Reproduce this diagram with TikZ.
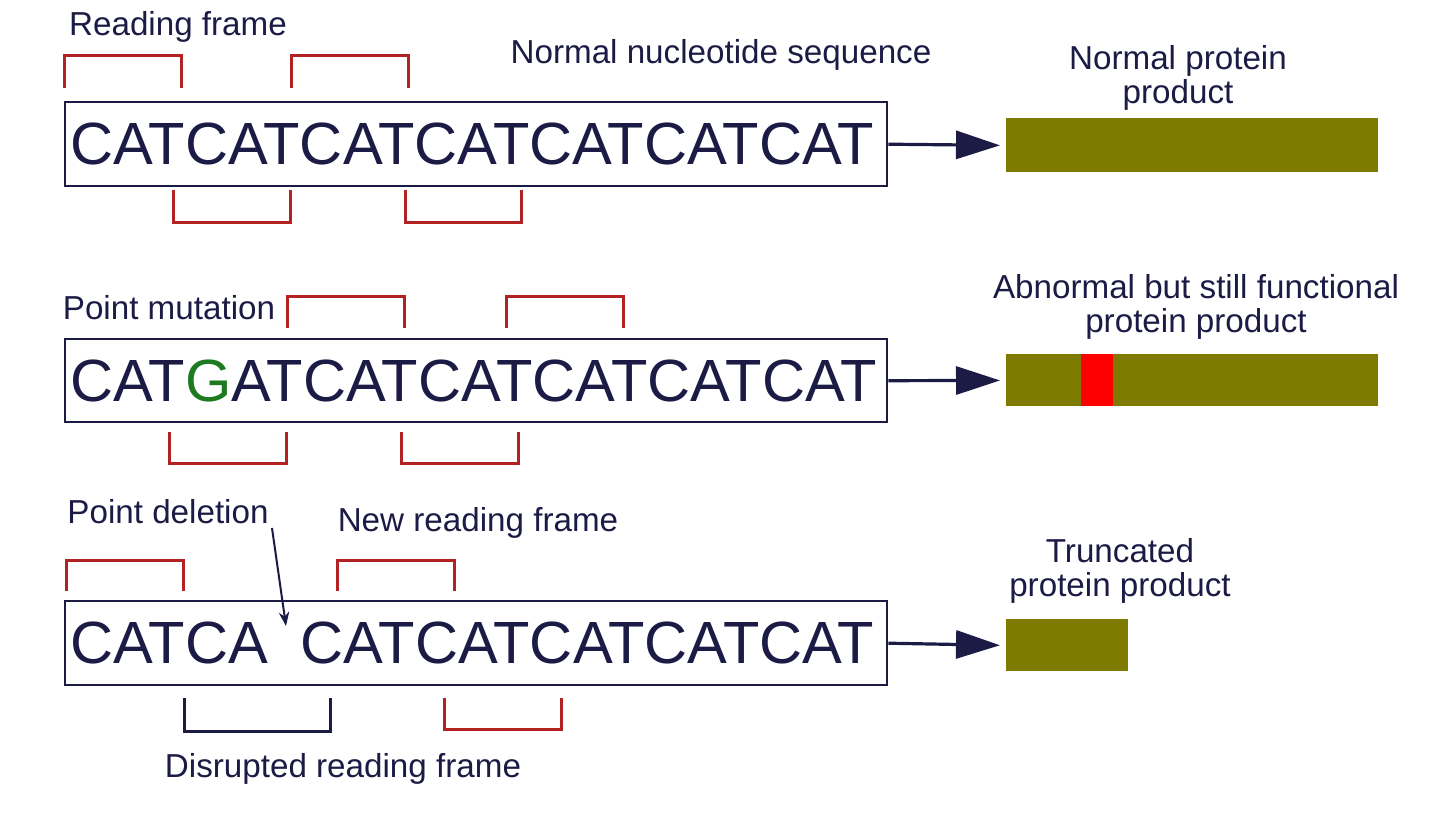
\documentclass[tikz,border=0pt]{standalone}
\usepackage{fontspec}
\setmainfont{Liberation Sans}
\usetikzlibrary{arrows.meta}
\definecolor{navy}{HTML}{1B1B45}
\definecolor{br}{HTML}{B22222}
\definecolor{olive2}{HTML}{7F7A00}
\definecolor{gm}{HTML}{1E7A1E}
\begin{document}
\begin{tikzpicture}[x=0.5pt,y=-0.5pt,
 seqbox/.style={draw=navy,line width=1.2pt},
 seq/.style={anchor=base west,inner sep=0,text=navy,font=\fontsize{29.8}{31}\selectfont},
 lbl/.style={text=navy,font=\fontsize{16.6}{17}\selectfont,align=center,inner sep=0},
 brk/.style={draw=br,line width=1.5pt},
 brkn/.style={draw=navy,line width=1.5pt},
 bigarr/.style={draw=navy,line width=1.6pt,-{Triangle[length=22pt,width=14pt]},shorten >=3pt},
 bar/.style={fill=olive2,draw=none}]
\useasboundingbox (0,0) rectangle (1440,840);
% boxes
\node[seqbox,minimum width=411pt,minimum height=42pt,anchor=north west] (b1) at (64,101) {};
\node[seqbox,minimum width=411pt,minimum height=41.5pt,anchor=north west] (b2) at (64,338) {};
\node[seqbox,minimum width=411pt,minimum height=42pt,anchor=north west] (b3) at (64,600) {};
\node[seq] (s1) at (70,164) {CATCATCATCATCATCATCAT};
\node[seq] (s2) at (70,401) {CAT{\color{gm}G}ATCATCATCATCATCAT};
\node[seq] (s3a) at (70,663) {CATCA};
\node[seq] (s3b) at (300,663) {CATCATCATCATCAT};
% brackets
\foreach \a/\b in {64/181,291/408} \draw[brk] (\a,88)--(\a,56)--(\b,56)--(\b,88);
\foreach \a/\b in {173/290,405/521} \draw[brk] (\a,190)--(\a,222)--(\b,222)--(\b,190);
\foreach \a/\b in {287/404,506/623} \draw[brk] (\a,328)--(\a,296)--(\b,296)--(\b,328);
\foreach \a/\b in {169/286,401/518} \draw[brk] (\a,432)--(\a,463)--(\b,463)--(\b,432);
\foreach \a/\b in {66/183,337/454} \draw[brk] (\a,591)--(\a,560)--(\b,560)--(\b,591);
\draw[brkn] (184,698)--(184,731)--(330,731)--(330,698);
\draw[brk] (444,698)--(444,729)--(561,729)--(561,698);
% proteins
\node[bar,minimum width=186pt,minimum height=27pt,anchor=north west,inner sep=0] (p1) at (1006,118) {};
\node[bar,minimum width=186pt,minimum height=26pt,anchor=north west,inner sep=0] (p2) at (1006,354) {};
\fill[red] (1081,354) rectangle (1113,406);
\node[bar,minimum width=61pt,minimum height=26pt,anchor=north west,inner sep=0] (p3) at (1006,619) {};
\draw[bigarr] (b1.east) -- (p1.west);
\draw[bigarr] (b2.east) -- (p2.west);
\draw[bigarr] (b3.east) -- (p3.west);
% labels
\node[lbl] at (178,27) {Reading frame};
\node[lbl] at (721,55) {Normal nucleotide sequence};
\node[lbl] at (1178,78) {Normal protein\\product};
\node[lbl] at (169,308) {Point mutation};
\node[lbl] at (1196,307) {Abnormal but still functional\\protein product};
\node[lbl] (pd) at (168,512) {Point deletion};
\node[lbl] at (478,523) {New reading frame};
\node[lbl] at (1120,571) {Truncated\\protein product};
\node[lbl] at (343,769) {Disrupted reading frame};
\coordinate (dt) at (286,626);
\draw[navy,line width=1pt,-{Stealth[length=7pt]}] (272,528) -- (dt);
\end{tikzpicture}
\end{document}
